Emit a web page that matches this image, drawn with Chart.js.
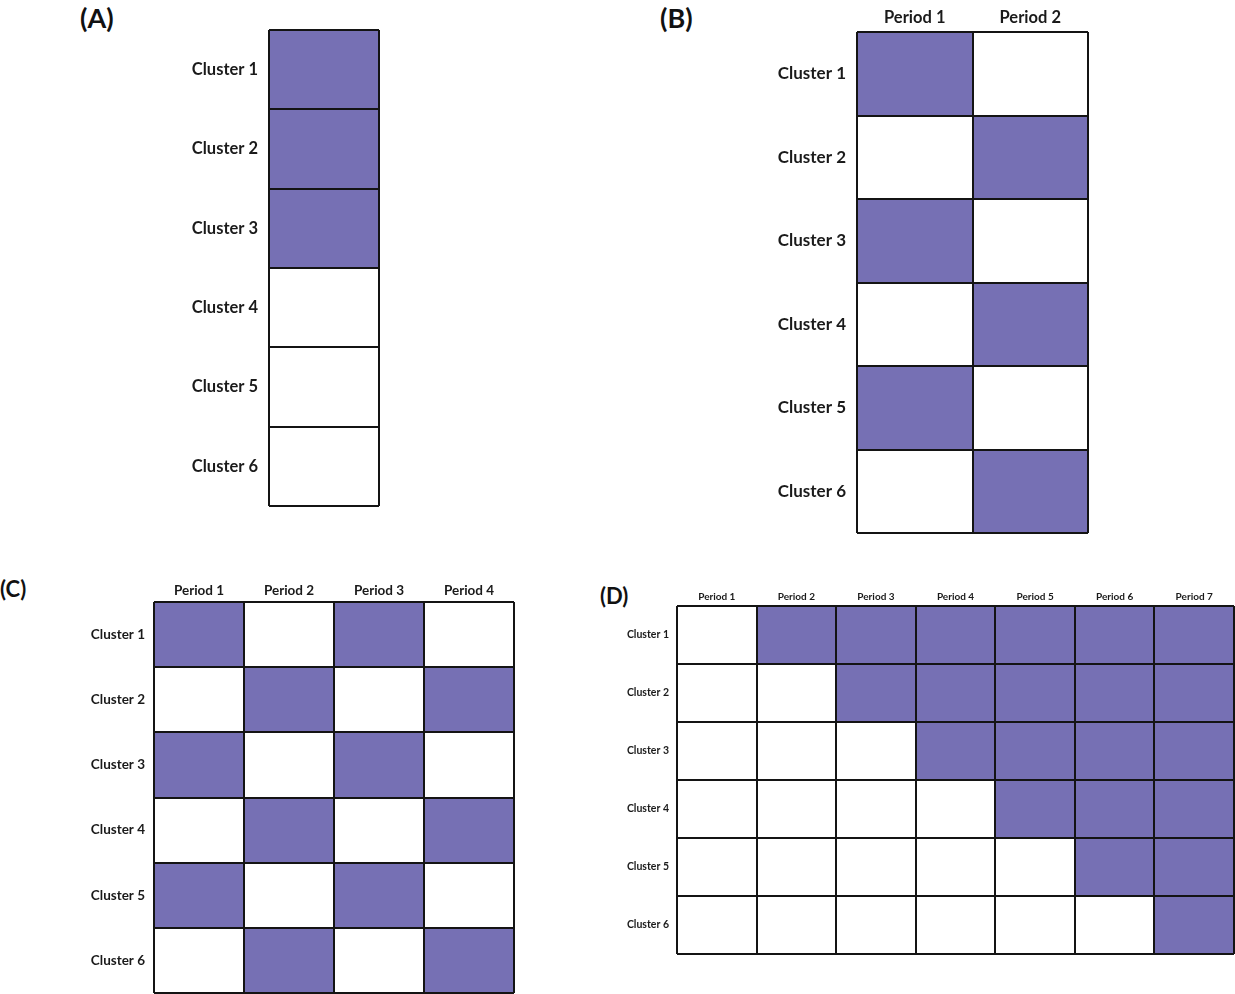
<!DOCTYPE html>
<html>
<head>
<meta charset="utf-8">
<script src="https://cdn.jsdelivr.net/npm/chart.js@4"></script>
<style>
	html, body { margin: 0; padding: 0; background: #fff; overflow: hidden; }
	body { width: 1235px; height: 994px; position: relative; font-family: Lato, 'Noto Sans', sans-serif; }
	.box { position: absolute; }
	.tag { position: absolute; font-weight: bold; color: #111; line-height: 1; }
</style>
</head>
<body>
<div class="tag" style="left:80px;top:4px;font-size:27px;">(A)</div>
<div class="tag" style="left:660px;top:4px;font-size:27px;">(B)</div>
<div class="tag" style="left:0px;top:578px;font-size:22px;">(C)</div>
<div class="tag" style="left:600px;top:585px;font-size:22px;">(D)</div>

<div class="box" style="left:150px;top:27px;width:233px;height:483px;"><canvas id="chartA"></canvas></div>
<div class="box" style="left:730px;top:0px;width:362px;height:537px;"><canvas id="chartB"></canvas></div>
<div class="box" style="left:30px;top:575px;width:488px;height:422px;"><canvas id="chartC"></canvas></div>
<div class="box" style="left:560px;top:580px;width:675px;height:378px;"><canvas id="chartD"></canvas></div>

<script>
var clusters = ['Cluster 1', 'Cluster 2', 'Cluster 3', 'Cluster 4', 'Cluster 5', 'Cluster 6'];

var periodsA = [''];
var periodsB = ['Period 1', 'Period 2'];
var periodsC = ['Period 1', 'Period 2', 'Period 3', 'Period 4'];
var periodsD = ['Period 1', 'Period 2', 'Period 3', 'Period 4', 'Period 5', 'Period 6', 'Period 7'];

// 1 = shaded cell, 0 = empty cell (one row per cluster)
var cellsA = [[1], [1], [1], [0], [0], [0]];
var cellsB = [[1, 0], [0, 1], [1, 0], [0, 1], [1, 0], [0, 1]];
var cellsC = [
	[1, 0, 1, 0],
	[0, 1, 0, 1],
	[1, 0, 1, 0],
	[0, 1, 0, 1],
	[1, 0, 1, 0],
	[0, 1, 0, 1]
];
var cellsD = [
	[0, 1, 1, 1, 1, 1, 1],
	[0, 0, 1, 1, 1, 1, 1],
	[0, 0, 0, 1, 1, 1, 1],
	[0, 0, 0, 0, 1, 1, 1],
	[0, 0, 0, 0, 0, 1, 1],
	[0, 0, 0, 0, 0, 0, 1]
];

var purple = '#7670b4';
var lineColor = '#141414';

Chart.defaults.font.family = 'Lato';
Chart.defaults.font.weight = 'bold';
Chart.defaults.color = '#1a1a1a';

function makeGrid(id, periods, cells, o) {
	var datasets = cells.map(function(row, i) {
		return {
			label: clusters[i],
			data: row.map(function() { return 1; }),
			backgroundColor: row.map(function(v) { return v ? purple : '#ffffff'; }),
			borderWidth: 0,
			barPercentage: 1,
			categoryPercentage: 1
		};
	});
	var ctx = document.getElementById(id);
	return new Chart(ctx, {
		type: 'bar',
		data: { labels: periods, datasets: datasets },
		options: {
			responsive: true,
			maintainAspectRatio: false,
			animation: false,
			layout: { padding: { top: 0, left: 0, right: o.padRight, bottom: 4 } },
			plugins: { legend: { display: false }, tooltip: { enabled: false } },
			scales: {
				x: {
					type: 'category',
					position: 'top',
					stacked: true,
					offset: true,
					grid: { offset: true, color: lineColor, lineWidth: 2, drawTicks: false, z: 1 },
					border: { display: false },
					ticks: {
						display: o.showHeader,
						font: { size: o.headSize, weight: 'bold' },
						padding: o.headPad,
						maxRotation: 0,
						autoSkip: false
					},
					afterFit: function(s) {
						s.height = o.headH;
						s.paddingLeft = 0;
						s.paddingRight = 0;
					}
				},
				y: {
					type: 'linear',
					min: 0,
					max: clusters.length,
					reverse: true,
					stacked: true,
					afterBuildTicks: function(s) {
						var t = [];
						for (var v = 0; v <= clusters.length; v += 0.5) t.push({ value: v });
						s.ticks = t;
					},
					grid: {
						color: function(c) {
							return c.tick && Number.isInteger(c.tick.value) ? lineColor : 'rgba(0,0,0,0)';
						},
						lineWidth: 2,
						drawTicks: false,
						z: 1
					},
					border: { display: false },
					ticks: {
						autoSkip: false,
						font: { size: o.labelSize, weight: 'bold' },
						padding: o.labelPad,
						callback: function(v) {
							return Number.isInteger(v) ? '' : clusters[Math.floor(v)];
						}
					},
					afterFit: function(s) {
						s.width = o.labelW;
						s.paddingTop = 0;
						s.paddingBottom = 0;
					}
				}
			}
		}
	});
}

makeGrid('chartA', periodsA, cellsA, { showHeader: false, headH: 3, headSize: 16, headPad: 4, labelW: 119, labelSize: 16.5, labelPad: 11, padRight: 4 });
makeGrid('chartB', periodsB, cellsB, { showHeader: true, headH: 32, headSize: 16.5, headPad: 4, labelW: 127, labelSize: 17, labelPad: 11, padRight: 4 });
makeGrid('chartC', periodsC, cellsC, { showHeader: true, headH: 27, headSize: 13.5, headPad: 3, labelW: 124, labelSize: 13.5, labelPad: 9, padRight: 4 });
makeGrid('chartD', periodsD, cellsD, { showHeader: true, headH: 26, headSize: 10, headPad: 3, labelW: 117, labelSize: 10.5, labelPad: 8, padRight: 1 });
</script>
</body>
</html>
